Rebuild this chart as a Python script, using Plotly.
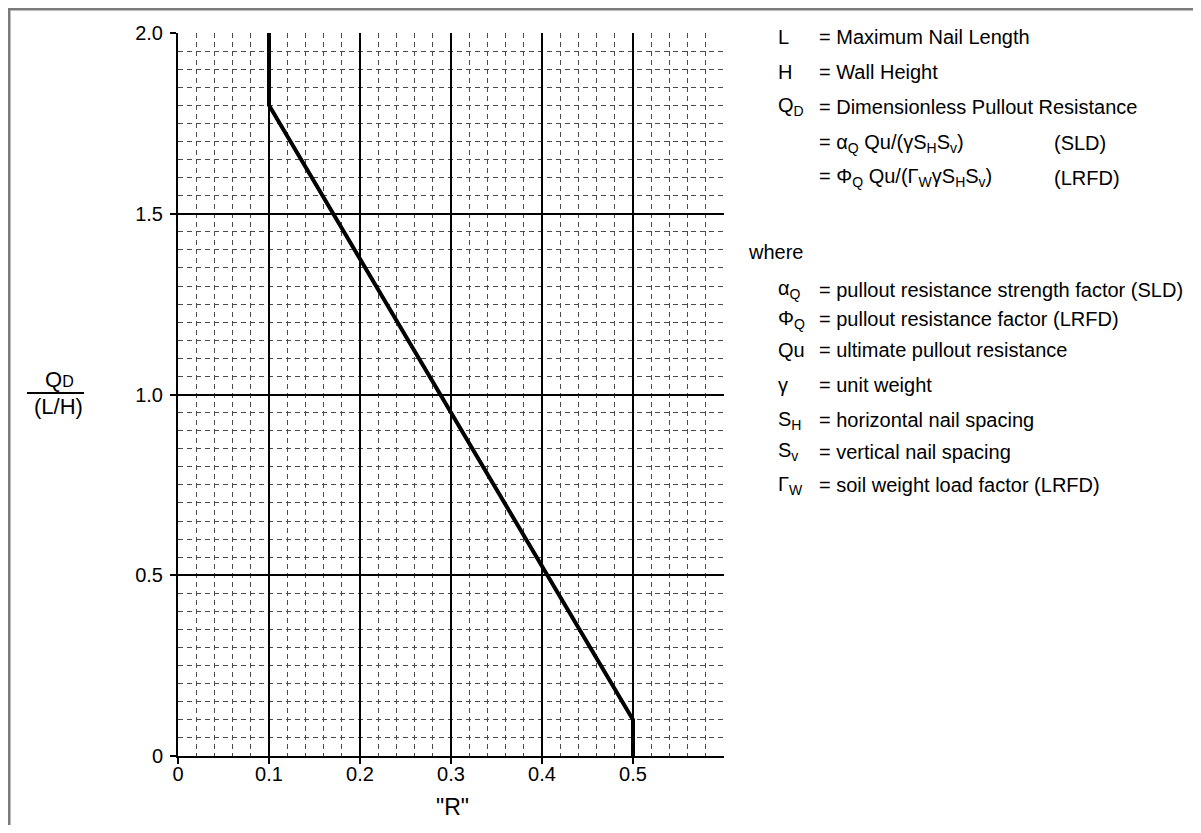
import plotly.graph_objects as go

# Design chart: Q_D/(L/H) against "R"
r_values = [0.1, 0.1, 0.5, 0.5]
qd_values = [2.0, 1.8, 0.1, 0.0]

x_ticks = [0, 0.1, 0.2, 0.3, 0.4, 0.5]
x_tick_labels = ["0", "0.1", "0.2", "0.3", "0.4", "0.5"]
y_ticks = [0, 0.5, 1.0, 1.5, 2.0]
y_tick_labels = ["0", "0.5", "1.0", "1.5", "2.0"]

# notation block on the right: (symbol, definition, note)
top_rows = [
    ("L", "= Maximum Nail Length", ""),
    ("H", "= Wall Height", ""),
    ("Q<sub>D</sub>", "= Dimensionless Pullout Resistance", ""),
    ("", "= α<sub>Q</sub> Qu/(γS<sub>H</sub>S<sub>v</sub>)", "(SLD)"),
    ("", "= Φ<sub>Q</sub> Qu/(Γ<sub>W</sub>γS<sub>H</sub>S<sub>v</sub>)", "(LRFD)"),
]
where_rows = [
    ("α<sub>Q</sub>", "= pullout resistance strength factor (SLD)"),
    ("Φ<sub>Q</sub>", "= pullout resistance factor (LRFD)"),
    ("Qu", "= ultimate pullout resistance"),
    ("γ", "= unit weight"),
    ("S<sub>H</sub>", "= horizontal nail spacing"),
    ("S<sub>v</sub>", "= vertical nail spacing"),
    ("Γ<sub>W</sub>", "= soil weight load factor (LRFD)"),
]

# page is 1201x833, the html body adds an 8px margin around the figure
OFF = 8
W, H = 1201 - 2 * OFF, 833 - 2 * OFF
# plot area in page pixels: x 178..724, y 33..756
ML, MT = 178 - OFF, 33 - OFF
MR = W - (724 - OFF)
MB = H - (756 - OFF)
PW, PH = W - ML - MR, H - MT - MB
FONT = "Liberation Sans, Arial, Helvetica, sans-serif"


def px(x):
    return (x - OFF - ML) / PW


def py(y):
    return (H - MB - (y - OFF)) / PH


fig = go.Figure()
fig.add_trace(go.Scatter(x=r_values, y=qd_values, mode="lines",
                         line=dict(color="black", width=4), hoverinfo="skip"))

anns = []
top_y = [37, 72, 107, 143, 178]
for (sym, text, note), yy in zip(top_rows, top_y):
    if sym:
        anns.append(dict(x=px(776), y=py(yy), text=sym))
    anns.append(dict(x=px(817), y=py(yy), text=text))
    if note:
        anns.append(dict(x=px(1052), y=py(yy), text=note))

anns.append(dict(x=px(746), y=py(252), text="where"))
where_y = [290, 319, 350, 385, 420, 452, 485]
for (sym, text), yy in zip(where_rows, where_y):
    anns.append(dict(x=px(776), y=py(yy), text=sym))
    anns.append(dict(x=px(817), y=py(yy), text=text))

for a in anns:
    a.update(xref="paper", yref="paper", xanchor="left", yanchor="middle",
             showarrow=False, font=dict(size=20, color="black", family=FONT))

# y-axis title as a stacked fraction
anns.append(dict(x=px(59), y=py(380), xref="paper", yref="paper", showarrow=False,
                 xanchor="center", yanchor="middle",
                 text="Q<span style='font-size:16px'>D</span>",
                 font=dict(size=22, color="black", family=FONT)))
anns.append(dict(x=px(58), y=py(407), xref="paper", yref="paper", showarrow=False,
                 xanchor="center", yanchor="middle",
                 text="(L/H)", font=dict(size=22, color="black", family=FONT)))
anns.append(dict(x=px(452), y=py(807), xref="paper", yref="paper", showarrow=False,
                 xanchor="center", yanchor="middle",
                 text='"R"', font=dict(size=23, color="black", family=FONT)))
fig.update_layout(annotations=anns)

shapes = [
    dict(type="line", xref="paper", yref="paper", x0=px(27), x1=px(84),
         y0=py(393), y1=py(393), line=dict(color="black", width=2)),
    # outer frame of the page
    dict(type="line", xref="paper", yref="paper", x0=px(8), x1=px(1210),
         y0=py(9), y1=py(9), line=dict(color="#7a7a7a", width=3)),
    dict(type="line", xref="paper", yref="paper", x0=px(9), x1=px(9),
         y0=py(8), y1=py(840), line=dict(color="#7a7a7a", width=3)),
]
fig.update_layout(shapes=shapes)

fig.update_xaxes(range=[0, 0.6], tickvals=x_ticks, ticktext=x_tick_labels,
                 showline=True, linecolor="black", linewidth=2,
                 ticks="outside", ticklen=6, tickcolor="black", tickwidth=2,
                 ticklabelstandoff=-7,
                 showgrid=True, gridcolor="black", gridwidth=2, zeroline=False,
                 minor=dict(dtick=0.02, showgrid=True, gridcolor="#4a4a4a",
                            gridwidth=1, griddash="5px,4px"),
                 tickfont=dict(size=20, color="black", family=FONT))
fig.update_yaxes(range=[0, 2.0], tickvals=y_ticks, ticktext=y_tick_labels,
                 showline=True, linecolor="black", linewidth=2,
                 ticks="outside", ticklen=6, tickcolor="black", tickwidth=2,
                 ticklabelstandoff=3,
                 showgrid=True, gridcolor="black", gridwidth=2, zeroline=False,
                 minor=dict(dtick=0.05, showgrid=True, gridcolor="#4a4a4a",
                            gridwidth=1, griddash="5px,4px"),
                 tickfont=dict(size=20, color="black", family=FONT))

fig.update_layout(width=W, height=H, showlegend=False,
                  margin=dict(l=ML, r=MR, t=MT, b=MB),
                  paper_bgcolor="white", plot_bgcolor="white",
                  font=dict(family=FONT, color="black"))

fig.write_html("out.html")
